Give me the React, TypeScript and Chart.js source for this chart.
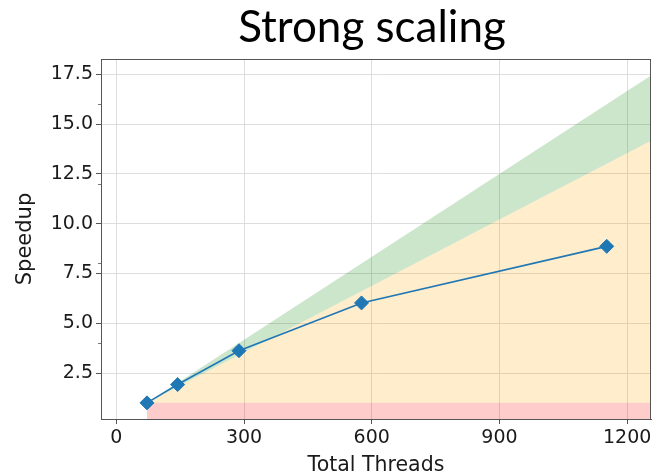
import React, { useEffect, useRef } from "react";
import { Chart, registerables } from "chart.js";

Chart.register(...registerables);

const threads = [72, 144, 288, 576, 1152];
const speedup = [1.0, 1.92, 3.62, 6.02, 8.86];

const bandX = [72, 1256];
const serialLine = [1, 1];
const efficiency80 = [1, 14.16];
const idealSpeedup = [1, 17.44];

const xTicks = [0, 300, 600, 900, 1200];
const yTicks = [2.5, 5.0, 7.5, 10.0, 12.5, 15.0, 17.5];
const yMinorTicks = [4, 8, 12, 16];

const titleText = "Strong scaling";
const xLabel = "Total Threads";
const yLabel = "Speedup";

const axisColor = "#555555";
const gridColor = "#dddddd";
const textColor = "#1a1a1a";
const tickFont = { family: "'DejaVu Sans'", size: 19 };

const extrasPlugin = {
  id: "extras",
  afterDraw(chart: any) {
    const { ctx, chartArea } = chart;
    const y = chart.scales.y;
    ctx.save();
    ctx.strokeStyle = axisColor;
    ctx.lineWidth = 1;
    ctx.strokeRect(chartArea.left + 0.5, chartArea.top + 0.5, chartArea.right - chartArea.left - 1, chartArea.bottom - chartArea.top);
    ctx.lineWidth = 0.8;
    for (const v of yMinorTicks) {
      const py = Math.round(y.getPixelForValue(v)) + 0.5;
      ctx.beginPath();
      ctx.moveTo(chartArea.left - 3, py);
      ctx.lineTo(chartArea.left, py);
      ctx.stroke();
    }
    ctx.fillStyle = "#000000";
    ctx.font = "44px Lato";
    ctx.textAlign = "center";
    ctx.textBaseline = "alphabetic";
    ctx.fillText(titleText, 372, 42);
    ctx.restore();
  },
};

export default function App() {
  const ref = useRef<HTMLCanvasElement | null>(null);
  useEffect(() => {
    if (!ref.current) return;
    const pts = (xs: number[], ys: number[]) => xs.map((x, i) => ({ x, y: ys[i] }));
    const chart = new Chart(ref.current, {
      type: "line",
      data: {
        datasets: [
          {
            label: "serial",
            data: pts(bandX, serialLine),
            fill: "start",
            backgroundColor: "rgba(255,0,0,0.2)",
            borderWidth: 0,
            pointRadius: 0,
            order: 3,
          },
          {
            label: "80%",
            data: pts(bandX, efficiency80),
            fill: "-1",
            backgroundColor: "rgba(255,165,0,0.2)",
            borderWidth: 0,
            pointRadius: 0,
            order: 2,
          },
          {
            label: "ideal",
            data: pts(bandX, idealSpeedup),
            fill: "-1",
            backgroundColor: "rgba(0,128,0,0.2)",
            borderWidth: 0,
            pointRadius: 0,
            order: 1,
          },
          {
            label: "Speedup",
            data: pts(threads, speedup),
            fill: false,
            borderColor: "#1f77b4",
            backgroundColor: "#1f77b4",
            borderWidth: 1.6,
            pointStyle: "rectRot",
            pointRadius: 7,
            pointBorderWidth: 1,
            tension: 0,
            order: 0,
          },
        ],
      },
      options: {
        animation: false,
        responsive: false,
        events: [],
        layout: { padding: { top: 59, right: 3, left: 0, bottom: 0 } },
        plugins: { legend: { display: false }, tooltip: { enabled: false }, title: { display: false } },
        scales: {
          x: {
            type: "linear",
            min: -36,
            max: 1256,
            afterBuildTicks: (s: any) => { s.ticks = xTicks.map((v) => ({ value: v })); },
            afterFit: (s: any) => { s.height = 57; s.paddingLeft = 0; s.paddingRight = 0; },
            grid: { color: gridColor, tickColor: axisColor, tickLength: 5 },
            border: { color: axisColor },
            ticks: { font: tickFont, color: textColor, padding: 3, maxRotation: 0, callback: (v: any) => String(v) },
            title: { display: true, text: xLabel, font: { family: "'DejaVu Sans'", size: 20.5, lineHeight: 1 }, color: textColor, padding: { top: 0, bottom: 0 } },
          },
          y: {
            type: "linear",
            min: 0.19,
            max: 18.27,
            afterBuildTicks: (s: any) => { s.ticks = yTicks.map((v) => ({ value: v })); },
            afterFit: (s: any) => { s.width = 101; s.paddingTop = 0; s.paddingBottom = 0; },
            grid: { color: gridColor, tickColor: axisColor, tickLength: 5 },
            border: { color: axisColor },
            ticks: { font: tickFont, color: textColor, padding: 3, callback: (v: any) => Number(v).toFixed(1) },
            title: { display: true, text: yLabel, font: { family: "'DejaVu Sans'", size: 21 }, color: textColor, padding: { top: 13, bottom: 0 } },
          },
        },
      },
      plugins: [extrasPlugin],
    });
    return () => chart.destroy();
  }, []);
  return (
    <div style={{ position: "fixed", left: 0, top: 0, width: 659, height: 476, background: "#fff" }}>
      <canvas ref={ref} width={659} height={476} style={{ display: "block" }} />
    </div>
  );
}
